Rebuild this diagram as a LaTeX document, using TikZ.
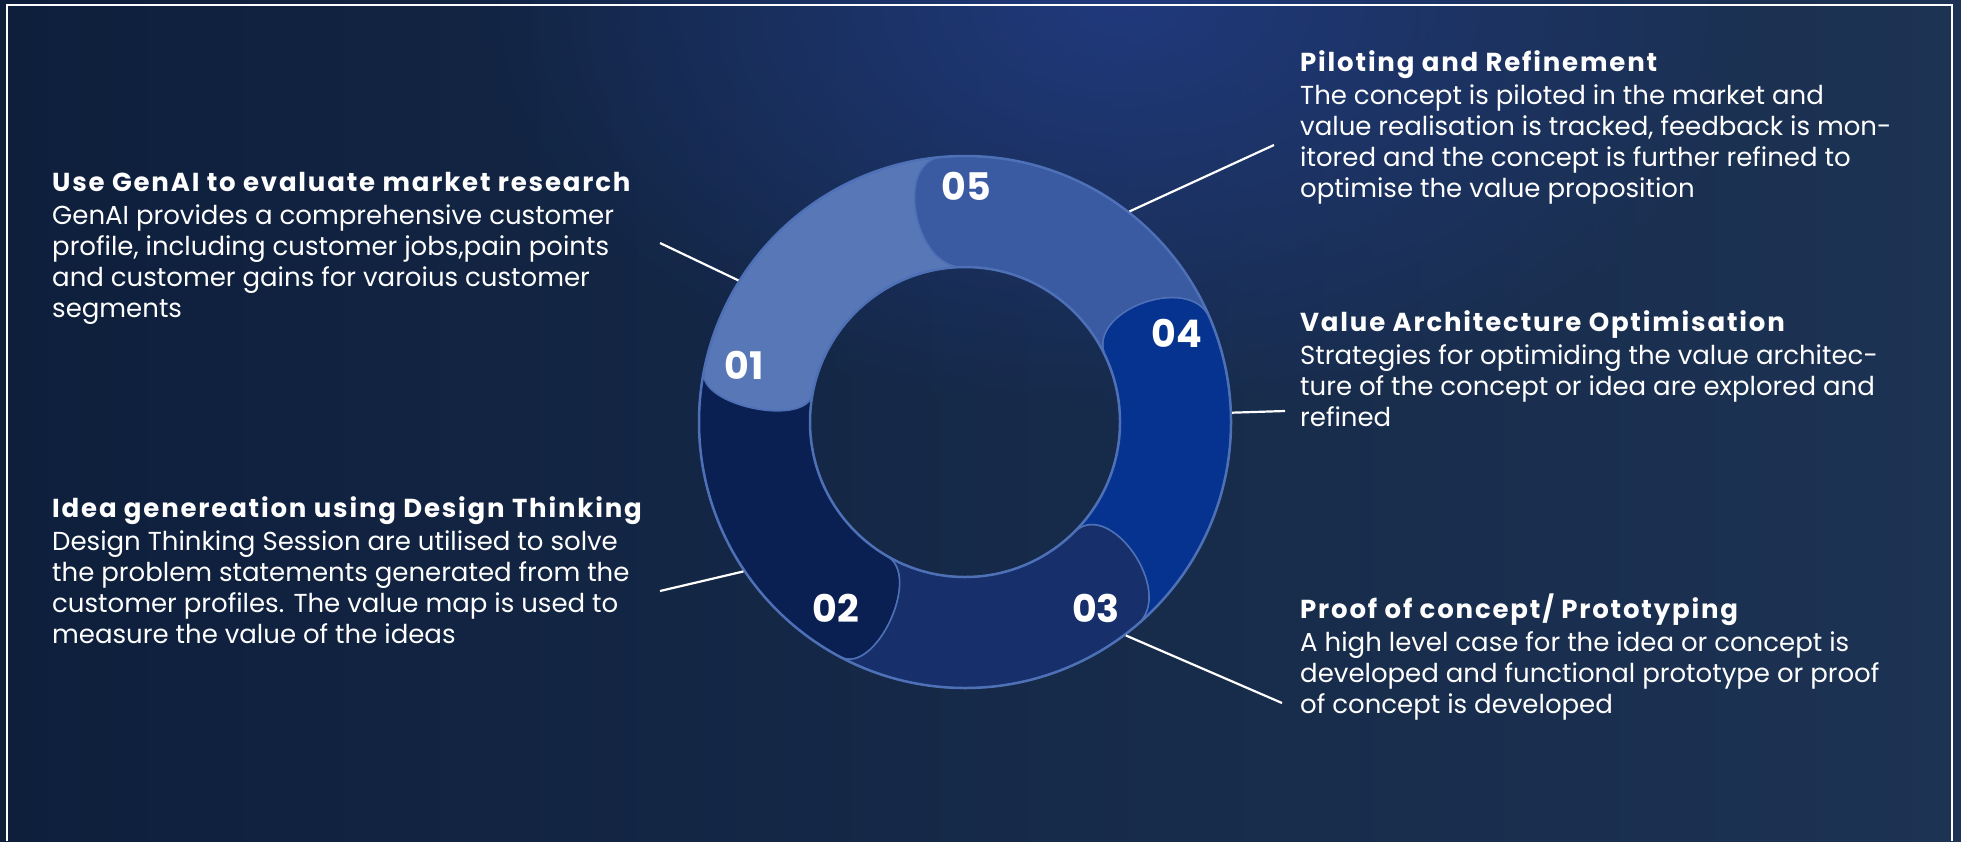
\documentclass[tikz,border=0pt]{standalone}
\usepackage{fontspec}
\setmainfont{Poppins}
\usepackage{tikz}
\usetikzlibrary{fadings}
\definecolor{bgleft}{HTML}{0E1F3C}
\definecolor{bgright}{HTML}{1D3354}
\definecolor{glow}{HTML}{223C85}
\definecolor{rim}{HTML}{4E70B6}
\definecolor{segA}{HTML}{5877B7}
\definecolor{segB}{HTML}{0A1F52}
\definecolor{segC}{HTML}{17306B}
\definecolor{segD}{HTML}{06338F}
\definecolor{segE}{HTML}{3A5AA2}
\tikzfading[name=glowfade, inner color=transparent!0, outer color=transparent!100]
\newcommand{\headline}[1]{{\addfontfeature{LetterSpace=7}\bfseries #1}\\[2pt]}
\tikzset{
    txt/.style={anchor=north west, align=left, inner sep=0pt, text=white,
        font=\fontsize{26}{31}\selectfont},
    num/.style={text=white, inner sep=0pt, font=\fontsize{38}{38}\selectfont\bfseries},
    lead/.style={draw=white, line width=2.2pt},
    piece/.style={draw=rim, line width=1.5pt},
    ringline/.style={shape=circle, draw=rim, line width=2.5pt, inner sep=0pt}}

\begin{document}
\begin{tikzpicture}[x=1pt, y=-1pt]

    \useasboundingbox (0,0) rectangle (1961,841);
    \shade[left color=bgleft, right color=bgright] (0,0) rectangle (1961,841);
    \fill[glow, path fading=glowfade, opacity=0.85] (1120,0) ellipse [x radius=650, y radius=420];
    \draw[white, line width=2.5pt] (7,841) -- (7,5) -- (1952,5) -- (1952,841);

    \begin{scope}[shift={(965,422)}, yscale=-1]
        \fill[segA, piece] (91:155) .. controls +(181:48) and +(185:48) .. (95:266) arc[start angle=95, end angle=169, radius=266] .. controls +(259:35) and +(259.5:35) .. (169.5:155) arc[start angle=169.5, end angle=91, radius=155] -- cycle;
        \fill[segB, piece] (169.5:155) .. controls +(259.5:35) and +(259:35) .. (169:266) arc[start angle=169, end angle=242, radius=266] .. controls +(332:40) and +(330:40) .. (240:155) arc[start angle=240, end angle=169.5, radius=155] -- cycle;
        \fill[segC, piece] (240:155) .. controls +(330:40) and +(332:40) .. (242:266) arc[start angle=242, end angle=310.5, radius=266] .. controls +(40.5:50) and +(44.7:50) .. (314.7:155) arc[start angle=314.7, end angle=240, radius=155] -- cycle;
        \fill[segD, piece] (314.7:155) .. controls +(44.7:50) and +(40.5:50) .. (310.5:266) arc[start angle=310.5, end angle=383, radius=266] .. controls +(113:50) and +(115:50) .. (385:155) arc[start angle=385, end angle=314.7, radius=155] -- cycle;
        \fill[segE, piece] (25:155) .. controls +(115:50) and +(113:50) .. (23:266) arc[start angle=23, end angle=95, radius=266] .. controls +(185:48) and +(181:48) .. (91:155) arc[start angle=91, end angle=25, radius=155] -- cycle;
    \end{scope}

    \node[ringline, minimum size=532pt] (ring) at (965,422) {};
    \node[ringline, minimum size=310pt] (hole) at (965,422) {};

    \node[num] (N1) at (744,365) {01};
    \node[num] (N2) at (836,608) {02};
    \node[num] (N3) at (1096,608) {03};
    \node[num] (N4) at (1177,333) {04};
    \node[num] (N5) at (966,186) {05};

    \node[txt] (T1) at (52,172.5) {\headline{Use GenAI to evaluate market research}GenAI provides a comprehensive customer\\profile, including customer jobs,pain points\\and customer gains for varoius customer\\segments};
    \node[txt] (T2) at (52,496) {\headline{Idea genereation using Design Thinking}Design Thinking Session are utilised to solve\\the problem statements generated from the\\customer profiles. The value map is used to\\measure the value of the ideas};
    \node[txt] (T5) at (1300,50) {\headline{Piloting and Refinement}The concept is piloted in the market and\\value realisation is tracked, feedback is mon-\\itored and the concept is further refined to\\optimise the value proposition};
    \node[txt] (T4) at (1300,310) {\headline{Value Architecture Optimisation}Strategies for optimiding the value architec-\\ture of the concept or idea are explored and\\refined};
    \node[txt] (T3) at (1300,593.5) {\headline{Proof of concept/ Prototyping}A high level case for the idea or concept is\\developed and functional prototype or proof\\of concept is developed};

    \coordinate (P1) at (660,243);
    \coordinate (P2) at (660,591);
    \coordinate (P3) at (1282,703);
    \coordinate (P4) at (1285,411);
    \coordinate (P5) at (1274,145);

    \draw[lead] (P1) -- (ring.148);
    \draw[lead] (P2) -- (ring.214.5);
    \draw[lead] (P3) -- (ring.307.4);
    \draw[lead] (P4) -- (ring.2.4);
    \draw[lead] (P5) -- (ring.52.3);

\end{tikzpicture}
\end{document}
